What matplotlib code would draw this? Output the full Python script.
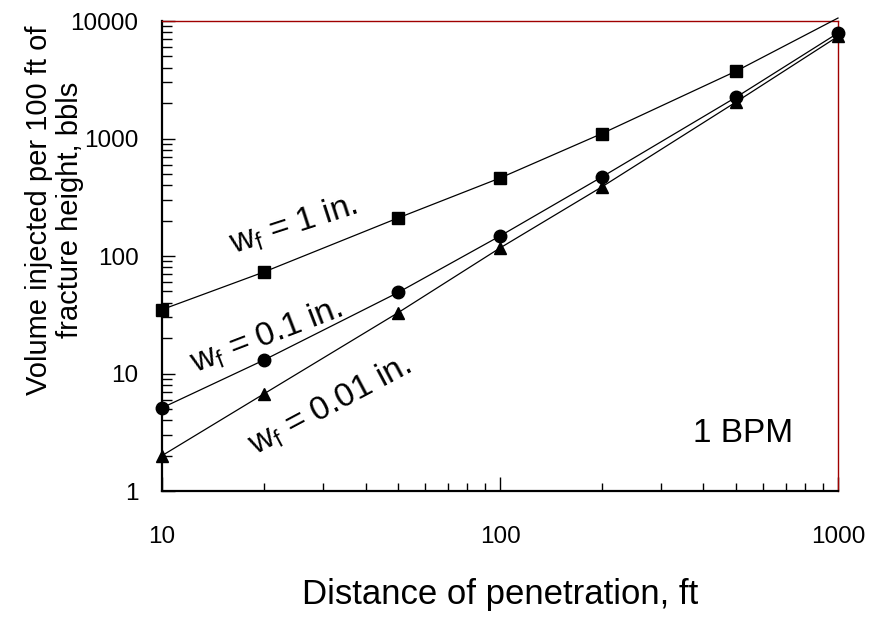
import numpy as np
import matplotlib
matplotlib.use('Agg')
import matplotlib.pyplot as plt

plt.rcParams['font.family'] = ['Liberation Sans', 'DejaVu Sans']
plt.rcParams['mathtext.default'] = 'regular'

distance = [10, 20, 50, 100, 200, 500, 1000]
vol_1in = [35, 73, 211, 461, 1100, 3750, 10600]
vol_01in = [5.1, 13, 49, 148, 470, 2250, 7900]
vol_001in = [2.0, 6.7, 33, 117, 387, 2050, 7400]

labels = ['w$_f$ = 1 in.', 'w$_f$ = 0.1 in.', 'w$_f$ = 0.01 in.']

fig = plt.figure(figsize=(8.74, 6.18), dpi=100)
ax = fig.add_axes([0.1854, 0.2055, 0.7734, 0.7605])

# top point of the 1 in. curve sits above the frame: line only, no marker
ax.plot(distance, vol_1in, 'k-', lw=0.9, marker='s', ms=9,
        markevery=slice(0, 6), clip_on=False, zorder=3)
ax.plot(distance, vol_01in, 'k-', lw=0.9, marker='o', ms=9,
        clip_on=False, zorder=3)
ax.plot(distance, vol_001in, 'k-', lw=0.9, marker='^', ms=9,
        clip_on=False, zorder=3)

ax.set_xscale('log')
ax.set_yscale('log')
ax.set_xlim(10, 1000)
ax.set_ylim(1, 10000)

ax.set_xticks([10, 100, 1000])
ax.set_xticklabels(['10', '100', '1000'])
ax.set_yticks([1, 10, 100, 1000, 10000])
ax.set_yticklabels(['1', '10', '100', '1000', '10000'])

ax.tick_params(which='both', direction='in', top=False, right=False,
               labelsize=17.5, width=1)
ax.tick_params(axis='x', which='major', length=10, pad=25)
ax.tick_params(axis='x', which='minor', length=6)
ax.tick_params(axis='y', which='major', length=9, pad=17)
ax.tick_params(axis='y', which='minor', length=7)

for s in ['left', 'bottom']:
    ax.spines[s].set_linewidth(1.6)
    ax.spines[s].set_color('black')
for s in ['top', 'right']:
    ax.spines[s].set_linewidth(1.0)
    ax.spines[s].set_color('#a00000')

ax.set_xlabel('Distance of penetration, ft', fontsize=25, labelpad=22)
ax.set_ylabel('Volume injected per 100 ft of\nfracture height, bbls',
              fontsize=21, linespacing=1.15)
ax.yaxis.set_label_coords(-0.115, 0.598)

ax.text(0.1945, 0.566, labels[0], transform=ax.transAxes, fontsize=24,
        rotation=18, ha='center', va='center')
ax.text(0.1546, 0.330, labels[1], transform=ax.transAxes, fontsize=24,
        rotation=21, ha='center', va='center')
ax.text(0.2485, 0.183, labels[2], transform=ax.transAxes, fontsize=24,
        rotation=28, ha='center', va='center')
ax.text(0.8595, 0.122, '1 BPM', transform=ax.transAxes, fontsize=24,
        ha='center', va='center')

fig.savefig('out.png', dpi=100)
